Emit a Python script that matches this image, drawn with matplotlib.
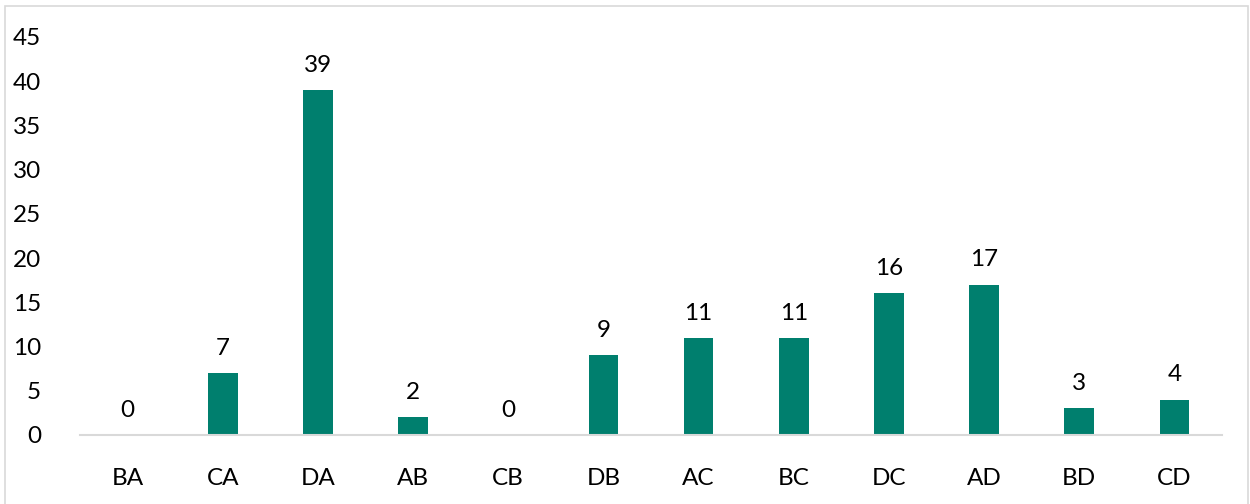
import matplotlib.pyplot as plt
from matplotlib.patches import Rectangle

categories = ['BA', 'CA', 'DA', 'AB', 'CB', 'DB', 'AC', 'BC', 'DC', 'AD', 'BD', 'CD']
counts = [0, 7, 39, 2, 0, 9, 11, 11, 16, 17, 3, 4]

plt.rcParams['font.family'] = ['Lato', 'DejaVu Sans']

fig = plt.figure(figsize=(12.5, 5.04), dpi=100)
ax = fig.add_axes([0.064, 0.137, 0.9136, 0.7896])

x = range(len(categories))
bars = ax.bar(x, counts, width=0.31, color='#007F6E')
for xi, v in zip(x, counts):
    ax.text(xi, v + 1.6, str(v), ha='center', va='bottom', fontsize=17.5, color='black')

ax.set_xlim(-0.5, len(categories) - 0.5)
ax.set_ylim(0, 45)
ax.set_yticks(range(0, 46, 5))
ax.set_xticks(list(x))
ax.set_xticklabels(categories)
ax.tick_params(axis='both', length=0, labelsize=17.5, colors='black')
ax.tick_params(axis='x', pad=24)
ax.tick_params(axis='y', pad=28)

for s in ['top', 'right', 'left']:
    ax.spines[s].set_visible(False)
ax.spines['bottom'].set_color('#D9D9D9')
ax.spines['bottom'].set_linewidth(1.5)

# light frame round the chart area
fig.patches.append(Rectangle((0.004, -0.01), 0.9945, 0.998, transform=fig.transFigure,
                             fill=False, edgecolor='#D9D9D9', linewidth=1.2))

fig.savefig('out.png', dpi=100)
